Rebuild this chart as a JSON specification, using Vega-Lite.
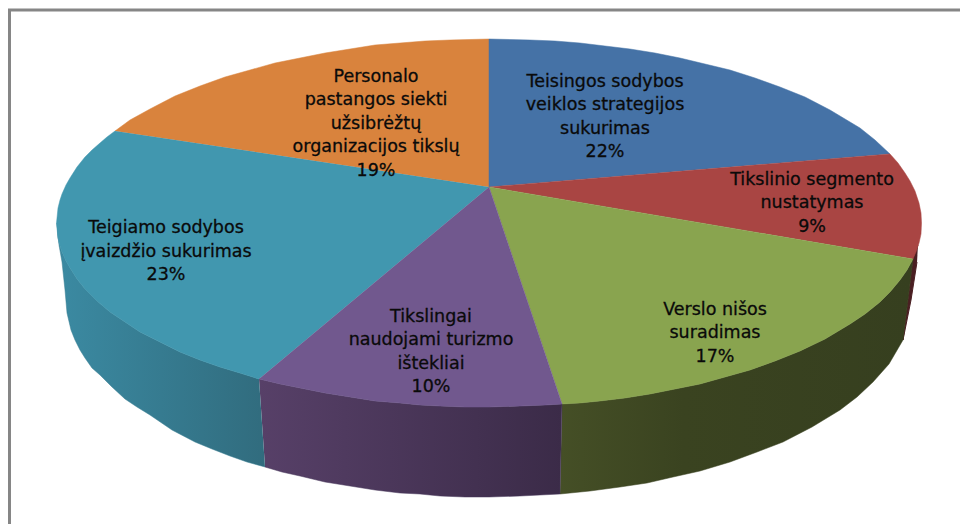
{
"$schema":"https://vega.github.io/schema/vega-lite/v6.json",
"width":960,"height":524,"padding":0,
"autosize":"none",
"background":"white",
"view":{"stroke":null},
"datasets":{
"frame":[{"i":0,"x":9.5,"y":524},{"i":1,"x":9.5,"y":10},{"i":2,"x":960,"y":10}],
"walls":[
{"s":"T","i":0,"x":259,"y":379},{"s":"T","i":1,"x":240,"y":373},{"s":"T","i":2,"x":220,"y":367},{"s":"T","i":3,"x":200,"y":360},{"s":"T","i":4,"x":180,"y":352},{"s":"T","i":5,"x":160,"y":342},{"s":"T","i":6,"x":140,"y":332},{"s":"T","i":7,"x":125,"y":322},{"s":"T","i":8,"x":110,"y":312},{"s":"T","i":9,"x":97,"y":301},{"s":"T","i":10,"x":85,"y":289},{"s":"T","i":11,"x":77,"y":279},{"s":"T","i":12,"x":70,"y":268},{"s":"T","i":13,"x":66,"y":261},{"s":"T","i":14,"x":62,"y":252},{"s":"T","i":15,"x":60,"y":246},{"s":"T","i":16,"x":58,"y":238},{"s":"T","i":17,"x":57,"y":223},
{"s":"T","i":18,"x":59,"y":245},{"s":"T","i":19,"x":62,"y":262},{"s":"T","i":20,"x":65,"y":290},{"s":"T","i":21,"x":67,"y":313},{"s":"T","i":22,"x":71,"y":330},{"s":"T","i":23,"x":75,"y":340},{"s":"T","i":24,"x":80,"y":350},{"s":"T","i":25,"x":85,"y":358},{"s":"T","i":26,"x":92,"y":368},{"s":"T","i":27,"x":100,"y":375},{"s":"T","i":28,"x":112,"y":387},{"s":"T","i":29,"x":125,"y":399},{"s":"T","i":30,"x":137,"y":407},{"s":"T","i":31,"x":150,"y":415},{"s":"T","i":32,"x":172,"y":430},{"s":"T","i":33,"x":195,"y":442},{"s":"T","i":34,"x":212,"y":449},{"s":"T","i":35,"x":230,"y":456},{"s":"T","i":36,"x":247,"y":462},{"s":"T","i":37,"x":265,"y":467},
{"s":"P","i":0,"x":259,"y":379},{"s":"P","i":1,"x":280,"y":384},{"s":"P","i":2,"x":300,"y":388},{"s":"P","i":3,"x":325,"y":393},{"s":"P","i":4,"x":350,"y":397},{"s":"P","i":5,"x":375,"y":401},{"s":"P","i":6,"x":400,"y":403},{"s":"P","i":7,"x":420,"y":405},{"s":"P","i":8,"x":440,"y":406},{"s":"P","i":9,"x":465,"y":407},{"s":"P","i":10,"x":489,"y":407},{"s":"P","i":11,"x":520,"y":406},{"s":"P","i":12,"x":545,"y":405},{"s":"P","i":13,"x":562,"y":404},
{"s":"P","i":14,"x":560,"y":494},{"s":"P","i":15,"x":540,"y":495},{"s":"P","i":16,"x":520,"y":496},{"s":"P","i":17,"x":489,"y":497},{"s":"P","i":18,"x":465,"y":497},{"s":"P","i":19,"x":440,"y":496},{"s":"P","i":20,"x":420,"y":494},{"s":"P","i":21,"x":400,"y":493},{"s":"P","i":22,"x":375,"y":490},{"s":"P","i":23,"x":350,"y":486},{"s":"P","i":24,"x":325,"y":482},{"s":"P","i":25,"x":300,"y":476},{"s":"P","i":26,"x":282,"y":472},{"s":"P","i":27,"x":265,"y":467},
{"s":"O","i":0,"x":562,"y":404},{"s":"O","i":1,"x":580,"y":403},{"s":"O","i":2,"x":600,"y":401},{"s":"O","i":3,"x":625,"y":398},{"s":"O","i":4,"x":650,"y":394},{"s":"O","i":5,"x":675,"y":389},{"s":"O","i":6,"x":700,"y":384},{"s":"O","i":7,"x":725,"y":377},{"s":"O","i":8,"x":750,"y":370},{"s":"O","i":9,"x":775,"y":361},{"s":"O","i":10,"x":800,"y":351},{"s":"O","i":11,"x":825,"y":339},{"s":"O","i":12,"x":850,"y":324},{"s":"O","i":13,"x":865,"y":314},{"s":"O","i":14,"x":880,"y":302},{"s":"O","i":15,"x":890,"y":292},{"s":"O","i":16,"x":900,"y":280},{"s":"O","i":17,"x":907,"y":270},{"s":"O","i":18,"x":913,"y":259},
{"s":"O","i":19,"x":903,"y":340},{"s":"O","i":20,"x":889,"y":364},{"s":"O","i":21,"x":873,"y":382},{"s":"O","i":22,"x":857,"y":397},{"s":"O","i":23,"x":840,"y":410},{"s":"O","i":24,"x":812,"y":427},{"s":"O","i":25,"x":783,"y":442},{"s":"O","i":26,"x":757,"y":452},{"s":"O","i":27,"x":730,"y":462},{"s":"O","i":28,"x":700,"y":471},{"s":"O","i":29,"x":673,"y":477},{"s":"O","i":30,"x":647,"y":483},{"s":"O","i":31,"x":620,"y":487},{"s":"O","i":32,"x":590,"y":491},{"s":"O","i":33,"x":560,"y":494},
{"s":"R","i":0,"x":918,"y":245},{"s":"R","i":1,"x":913,"y":259},{"s":"R","i":2,"x":903,"y":340},{"s":"R","i":3,"x":905,"y":330},{"s":"R","i":4,"x":911,"y":300},{"s":"R","i":5,"x":917,"y":262}
],
"tops":[
{"s":"Personalo","i":0,"x":489,"y":187},{"s":"Personalo","i":1,"x":115,"y":131},{"s":"Personalo","i":2,"x":130,"y":120},{"s":"Personalo","i":3,"x":150,"y":109},{"s":"Personalo","i":4,"x":175,"y":96},{"s":"Personalo","i":5,"x":200,"y":86},{"s":"Personalo","i":6,"x":225,"y":77},{"s":"Personalo","i":7,"x":250,"y":70},{"s":"Personalo","i":8,"x":275,"y":63},{"s":"Personalo","i":9,"x":300,"y":58},{"s":"Personalo","i":10,"x":325,"y":53},{"s":"Personalo","i":11,"x":350,"y":49},{"s":"Personalo","i":12,"x":375,"y":45},{"s":"Personalo","i":13,"x":400,"y":43},{"s":"Personalo","i":14,"x":425,"y":41},{"s":"Personalo","i":15,"x":450,"y":40},{"s":"Personalo","i":16,"x":489,"y":39},
{"s":"Teisingos","i":0,"x":489,"y":187},{"s":"Teisingos","i":1,"x":489,"y":39},{"s":"Teisingos","i":2,"x":530,"y":40},{"s":"Teisingos","i":3,"x":555,"y":41},{"s":"Teisingos","i":4,"x":580,"y":43},{"s":"Teisingos","i":5,"x":605,"y":46},{"s":"Teisingos","i":6,"x":630,"y":49},{"s":"Teisingos","i":7,"x":655,"y":53},{"s":"Teisingos","i":8,"x":680,"y":58},{"s":"Teisingos","i":9,"x":705,"y":64},{"s":"Teisingos","i":10,"x":730,"y":70},{"s":"Teisingos","i":11,"x":755,"y":78},{"s":"Teisingos","i":12,"x":780,"y":87},{"s":"Teisingos","i":13,"x":805,"y":97},{"s":"Teisingos","i":14,"x":830,"y":110},{"s":"Teisingos","i":15,"x":845,"y":119},{"s":"Teisingos","i":16,"x":860,"y":128},{"s":"Teisingos","i":17,"x":875,"y":140},{"s":"Teisingos","i":18,"x":890,"y":154},
{"s":"Tikslinio","i":0,"x":489,"y":187},{"s":"Tikslinio","i":1,"x":890,"y":154},{"s":"Tikslinio","i":2,"x":898,"y":163},{"s":"Tikslinio","i":3,"x":905,"y":173},{"s":"Tikslinio","i":4,"x":910,"y":181},{"s":"Tikslinio","i":5,"x":915,"y":191},{"s":"Tikslinio","i":6,"x":919,"y":203},{"s":"Tikslinio","i":7,"x":921,"y":213},{"s":"Tikslinio","i":8,"x":921.5,"y":223},{"s":"Tikslinio","i":9,"x":921,"y":234},{"s":"Tikslinio","i":10,"x":919,"y":243},{"s":"Tikslinio","i":11,"x":916,"y":252},{"s":"Tikslinio","i":12,"x":913,"y":259},
{"s":"Verslo","i":0,"x":489,"y":187},{"s":"Verslo","i":1,"x":913,"y":259},{"s":"Verslo","i":2,"x":907,"y":270},{"s":"Verslo","i":3,"x":900,"y":280},{"s":"Verslo","i":4,"x":890,"y":292},{"s":"Verslo","i":5,"x":880,"y":302},{"s":"Verslo","i":6,"x":865,"y":314},{"s":"Verslo","i":7,"x":850,"y":324},{"s":"Verslo","i":8,"x":825,"y":339},{"s":"Verslo","i":9,"x":800,"y":351},{"s":"Verslo","i":10,"x":775,"y":361},{"s":"Verslo","i":11,"x":750,"y":370},{"s":"Verslo","i":12,"x":725,"y":377},{"s":"Verslo","i":13,"x":700,"y":384},{"s":"Verslo","i":14,"x":675,"y":389},{"s":"Verslo","i":15,"x":650,"y":394},{"s":"Verslo","i":16,"x":625,"y":398},{"s":"Verslo","i":17,"x":600,"y":401},{"s":"Verslo","i":18,"x":580,"y":403},{"s":"Verslo","i":19,"x":562,"y":404},
{"s":"Tikslingai","i":0,"x":489,"y":187},{"s":"Tikslingai","i":1,"x":562,"y":404},{"s":"Tikslingai","i":2,"x":545,"y":405},{"s":"Tikslingai","i":3,"x":520,"y":406},{"s":"Tikslingai","i":4,"x":489,"y":407},{"s":"Tikslingai","i":5,"x":465,"y":407},{"s":"Tikslingai","i":6,"x":440,"y":406},{"s":"Tikslingai","i":7,"x":420,"y":405},{"s":"Tikslingai","i":8,"x":400,"y":403},{"s":"Tikslingai","i":9,"x":375,"y":401},{"s":"Tikslingai","i":10,"x":350,"y":397},{"s":"Tikslingai","i":11,"x":325,"y":393},{"s":"Tikslingai","i":12,"x":300,"y":388},{"s":"Tikslingai","i":13,"x":280,"y":384},{"s":"Tikslingai","i":14,"x":259,"y":379},
{"s":"Teigiamo","i":0,"x":489,"y":187},{"s":"Teigiamo","i":1,"x":259,"y":379},{"s":"Teigiamo","i":2,"x":240,"y":373},{"s":"Teigiamo","i":3,"x":220,"y":367},{"s":"Teigiamo","i":4,"x":200,"y":360},{"s":"Teigiamo","i":5,"x":180,"y":352},{"s":"Teigiamo","i":6,"x":160,"y":342},{"s":"Teigiamo","i":7,"x":140,"y":332},{"s":"Teigiamo","i":8,"x":125,"y":322},{"s":"Teigiamo","i":9,"x":110,"y":312},{"s":"Teigiamo","i":10,"x":97,"y":301},{"s":"Teigiamo","i":11,"x":85,"y":289},{"s":"Teigiamo","i":12,"x":77,"y":279},{"s":"Teigiamo","i":13,"x":70,"y":268},{"s":"Teigiamo","i":14,"x":66,"y":261},{"s":"Teigiamo","i":15,"x":62,"y":252},{"s":"Teigiamo","i":16,"x":60,"y":246},{"s":"Teigiamo","i":17,"x":58,"y":238},{"s":"Teigiamo","i":18,"x":56.5,"y":223},{"s":"Teigiamo","i":19,"x":58,"y":208},{"s":"Teigiamo","i":20,"x":60,"y":200},{"s":"Teigiamo","i":21,"x":62,"y":194},{"s":"Teigiamo","i":22,"x":66,"y":185},{"s":"Teigiamo","i":23,"x":70,"y":178},{"s":"Teigiamo","i":24,"x":77,"y":167},{"s":"Teigiamo","i":25,"x":85,"y":157},{"s":"Teigiamo","i":26,"x":92,"y":150},{"s":"Teigiamo","i":27,"x":100,"y":143},{"s":"Teigiamo","i":28,"x":107,"y":137},{"s":"Teigiamo","i":29,"x":115,"y":131}
],
"labels":[
{"label":"Personalo\npastangos siekti\nužsibrėžtų\norganizacijos tikslų","share":19,"x":376,"y":67.5},
{"label":"Teisingos sodybos\nveiklos strategijos\nsukurimas","share":22,"x":605,"y":72.5},
{"label":"Tikslinio segmento\nnustatymas","share":9,"x":812,"y":170.5},
{"label":"Verslo nišos\nsuradimas","share":17,"x":715,"y":300.5},
{"label":"Tikslingai\nnaudojami turizmo\ništekliai","share":10,"x":431,"y":307.5},
{"label":"Teigiamo sodybos\nįvaizdžio sukurimas","share":23,"x":166,"y":219}
]
},
"encoding":{
"x":{"field":"x","type":"quantitative","axis":null,"scale":{"domain":[0,960],"nice":false,"zero":false}},
"y":{"field":"y","type":"quantitative","axis":null,"scale":{"domain":[524,0],"nice":false,"zero":false}}
},
"layer":[
{"data":{"name":"frame"},"mark":{"type":"line","stroke":"#868686","strokeWidth":3},"encoding":{"order":{"field":"i"}}},
{"data":{"name":"walls"},"transform":[{"filter":"datum.s==='R'"}],"mark":{"type":"line","fill":"#4a1f22","stroke":"#4a1f22","strokeWidth":1},"encoding":{"order":{"field":"i"}}},
{"data":{"name":"walls"},"transform":[{"filter":"datum.s==='O'"}],"mark":{"type":"line","strokeWidth":0.5,"stroke":"#39411f","fill":{"gradient":"linear","x1":0,"y1":0,"x2":1,"y2":0,"stops":[{"offset":0,"color":"#454f26"},{"offset":0.35,"color":"#3a4320"},{"offset":1,"color":"#363f1f"}]}},"encoding":{"order":{"field":"i"}}},
{"data":{"name":"walls"},"transform":[{"filter":"datum.s==='P'"}],"mark":{"type":"line","strokeWidth":0.5,"stroke":"#46365a","fill":{"gradient":"linear","x1":0,"y1":0,"x2":1,"y2":0,"stops":[{"offset":0,"color":"#574068"},{"offset":1,"color":"#3b2b48"}]}},"encoding":{"order":{"field":"i"}}},
{"data":{"name":"walls"},"transform":[{"filter":"datum.s==='T'"}],"mark":{"type":"line","strokeWidth":0.5,"stroke":"#367c90","fill":{"gradient":"linear","x1":0,"y1":0,"x2":1,"y2":0,"stops":[{"offset":0,"color":"#3b8aa2"},{"offset":1,"color":"#316c7e"}]}},"encoding":{"order":{"field":"i"}}},
{"data":{"name":"tops"},"transform":[{"filter":"datum.s==='Personalo'"}],"mark":{"type":"line","fill":"#d9833d","stroke":"#d9833d","strokeWidth":0.5},"encoding":{"order":{"field":"i"}}},
{"data":{"name":"tops"},"transform":[{"filter":"datum.s==='Teisingos'"}],"mark":{"type":"line","fill":"#4572a6","stroke":"#4572a6","strokeWidth":0.5},"encoding":{"order":{"field":"i"}}},
{"data":{"name":"tops"},"transform":[{"filter":"datum.s==='Tikslinio'"}],"mark":{"type":"line","fill":"#a94543","stroke":"#a94543","strokeWidth":0.5},"encoding":{"order":{"field":"i"}}},
{"data":{"name":"tops"},"transform":[{"filter":"datum.s==='Verslo'"}],"mark":{"type":"line","fill":"#89a44f","stroke":"#89a44f","strokeWidth":0.5},"encoding":{"order":{"field":"i"}}},
{"data":{"name":"tops"},"transform":[{"filter":"datum.s==='Teigiamo'"}],"mark":{"type":"line","fill":"#4197af","stroke":"#4197af","strokeWidth":0.5},"encoding":{"order":{"field":"i"}}},
{"data":{"name":"tops"},"transform":[{"filter":"datum.s==='Tikslingai'"}],"mark":{"type":"line","fill":"#71588e","stroke":"#71588e","strokeWidth":0.5},"encoding":{"order":{"field":"i"}}},
{"data":{"name":"labels"},"transform":[{"calculate":"datum.label + '\\n' + datum.share + '%'","as":"text"}],"mark":{"type":"text","font":"DejaVu Sans","fontSize":17.5,"lineBreak":"\n","lineHeight":23.6,"align":"center","baseline":"top","fill":"#0a0a0a","stroke":"#0a0a0a","strokeWidth":0.3},"encoding":{"text":{"field":"text"}}}
]
}
